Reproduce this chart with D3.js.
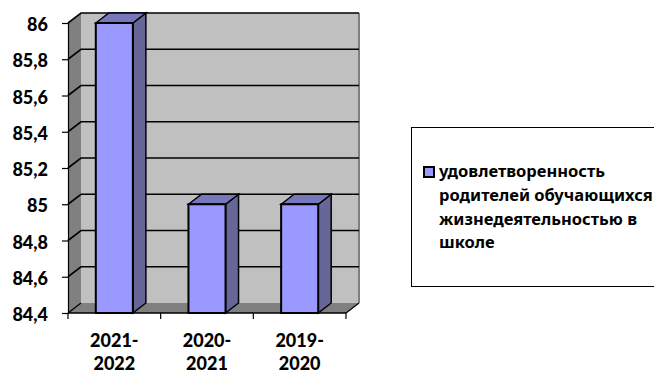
<!DOCTYPE html>
<html>
<head>
<meta charset="utf-8">
<script src="https://cdn.jsdelivr.net/npm/d3@7"></script>
<style>
  html,body{margin:0;padding:0;background:#fff;overflow:hidden}
  text{font-family:Lato,"Noto Sans",sans-serif;font-weight:900;fill:#000}
</style>
</head>
<body>
<svg id="chart" width="654" height="374"></svg>
<script>
// ---------- DATA ---------------------------------------------------------
const years  = ['2021-2022','2020-2021','2019-2020'];
const values = [86,85,85];
const yTicks = [84.4,84.6,84.8,85,85.2,85.4,85.6,85.8,86];
const legendLines = ['удовлетворенность','родителей обучающихся','жизнедеятельностью в','школе'];

// ---------- LAYOUT -------------------------------------------------------
const X0 = 68, X1 = 346, Y0 = 313, Y1 = 23;
const DX = 13, DY = 10;     // 3d depth
const COLORS = {wall:'#c0c0c0', side:'#808080', front:'#9999ff', barSide:'#666699', barTop:'#7777bb'};

const svg = d3.select('#chart');
const x = d3.scaleBand().domain(years).range([X0,X1]).paddingInner(.6).paddingOuter(.3);
const y = d3.scaleLinear().domain([84.4,86]).range([Y0,Y1]);
const poly = pts => pts.map(p=>p.join(',')).join(' ');

// ---------- WALLS --------------------------------------------------------
svg.append('polygon')
  .attr('points',poly([[X0+DX,Y1-DY],[X1+DX,Y1-DY],[X1+DX,Y0-DY],[X0+DX,Y0-DY]]))
  .attr('fill',COLORS.wall);
svg.append('polygon')
  .attr('points',poly([[X0,Y1],[X0+DX,Y1-DY],[X0+DX,Y0-DY],[X0,Y0]]))
  .attr('fill',COLORS.side);
svg.append('polygon')
  .attr('points',poly([[X0,Y0],[X0+DX,Y0-DY],[X1+DX,Y0-DY],[X1,Y0]]))
  .attr('fill',COLORS.side);
// right edge of the back wall
svg.append('line')
  .attr('x1',X1+DX).attr('x2',X1+DX).attr('y1',Y1-DY).attr('y2',Y0-DY)
  .attr('stroke',COLORS.side).attr('stroke-width',2);

// ---------- GRID ---------------------------------------------------------
const grid = svg.append('g').attr('fill','none').attr('stroke','#000').attr('stroke-width',1.6);
yTicks.forEach(t=>{
  if(t===84.4) return;
  grid.append('polyline')
    .attr('points',poly([[X0,y(t)],[X0+DX,y(t)-DY],[X1+DX,y(t)-DY]]));
});

// ---------- AXES ---------------------------------------------------------
const yAxis = svg.append('g').attr('transform',`translate(${X0},0)`)
  .call(d3.axisLeft(y).tickValues(yTicks).tickSize(6).tickPadding(14)
    .tickFormat(d=>String(d).replace('.',',')));
yAxis.select('.domain').attr('stroke','#000').attr('stroke-width',1.2);
yAxis.selectAll('.tick line').attr('stroke','#000').attr('stroke-width',1.2);
yAxis.selectAll('text').attr('font-size',18).attr('dy','.42em')
  .style('font-family','Lato,"Noto Sans",sans-serif').style('font-weight',900);

const floorLine = svg.append('g').attr('stroke','#000').attr('stroke-width',1.2).attr('fill','none');
floorLine.append('line').attr('x1',X0).attr('x2',X1).attr('y1',Y0).attr('y2',Y0).attr('stroke-width',1.5);
floorLine.append('polyline').attr('points',poly([[X0,Y0],[X0+DX,Y0-DY]]));
floorLine.append('polyline').attr('points',poly([[X1,Y0],[X1+DX,Y0-DY]]));
d3.range(years.length+1).forEach(i=>{
  const tx = X0 + i*x.step();
  floorLine.append('line').attr('x1',tx).attr('x2',tx).attr('y1',Y0).attr('y2',Y0+6);
});

// ---------- BARS ---------------------------------------------------------
const bars = svg.append('g').selectAll('g').data(years).join('g')
  .attr('stroke','#000').attr('stroke-width',1.5).attr('stroke-linejoin','miter');
bars.append('polygon')
  .attr('points',(d,i)=>{const a=x(d)+x.bandwidth(),t=y(values[i]);
    return poly([[a,t],[a+DX,t-DY],[a+DX,Y0-DY],[a,Y0]]);})
  .attr('fill',COLORS.barSide);
bars.append('polygon')
  .attr('points',(d,i)=>{const a=x(d),b=a+x.bandwidth(),t=y(values[i]);
    return poly([[a,t],[a+DX,t-DY],[b+DX,t-DY],[b,t]]);})
  .attr('fill',COLORS.barTop);
bars.append('rect')
  .attr('x',d=>x(d)).attr('width',x.bandwidth())
  .attr('y',(d,i)=>y(values[i])).attr('height',(d,i)=>Y0-y(values[i]))
  .attr('fill',COLORS.front).attr('stroke-width',2);

// ---------- CATEGORY LABELS ----------------------------------------------
const cat = svg.append('g').selectAll('text').data(years).join('text')
  .attr('text-anchor','middle').attr('font-size',18);
cat.append('tspan').attr('x',d=>x(d)+x.bandwidth()/2).attr('y',346.5).text(d=>d.slice(0,5));
cat.append('tspan').attr('x',d=>x(d)+x.bandwidth()/2).attr('y',370).text(d=>d.slice(5));

// ---------- LEGEND -------------------------------------------------------
svg.append('rect').attr('x',411.5).attr('y',127.5).attr('width',260).attr('height',159)
  .attr('fill','#fff').attr('stroke','#000');
svg.append('rect').attr('x',424).attr('y',167).attr('width',10).attr('height',10)
  .attr('fill',COLORS.front).attr('stroke','#000').attr('stroke-width',2);
svg.append('g').selectAll('text').data(legendLines).join('text')
  .attr('x',439).attr('y',(d,i)=>177+i*23.8)
  .attr('font-size',16.5).style('font-family','"Noto Sans",sans-serif').style('font-weight',700)
  .text(d=>d);
</script>
</body>
</html>
